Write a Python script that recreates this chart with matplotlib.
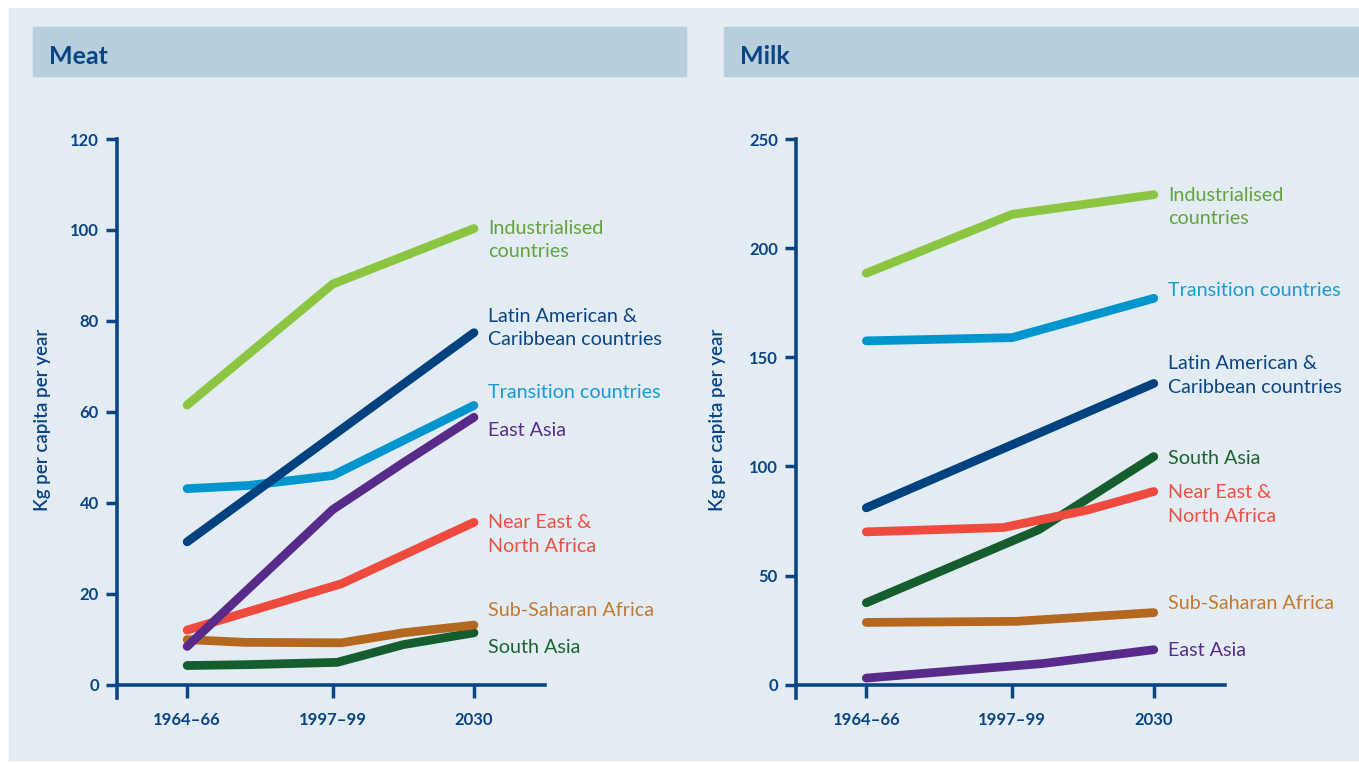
import matplotlib.pyplot as plt
from matplotlib.patches import Rectangle

plt.rcParams["font.family"] = ["Lato", "DejaVu Sans"]

# x axis: period midpoints, labelled as in the source
year_ticks = [1965, 1998, 2030]
year_labels = ["1964–66", "1997–99", "2030"]

# Meat, kg per capita per year
meat_ind_x = [1965, 1998, 2030]
meat_ind = [61.5, 88.1, 100.3]
meat_lat_x = [1965, 2030]
meat_lat = [31.4, 77.4]
meat_tra_x = [1965, 1979, 1998, 2030]
meat_tra = [43.1, 43.8, 46.0, 61.4]
meat_eas_x = [1965, 1998, 2014, 2030]
meat_eas = [8.4, 38.5, 48.8, 58.8]
meat_nea_x = [1965, 2000, 2030]
meat_nea = [12.0, 22.2, 35.7]
meat_ssa_x = [1965, 1978, 2000, 2014, 2030]
meat_ssa = [9.9, 9.3, 9.2, 11.4, 13.1]
meat_sas_x = [1965, 1979, 1999, 2014, 2030]
meat_sas = [4.2, 4.4, 4.9, 8.8, 11.4]

# Milk, kg per capita per year
milk_ind_x = [1965, 1998, 2030]
milk_ind = [188.5, 215.5, 224.5]
milk_tra_x = [1965, 1998, 2030]
milk_tra = [157.5, 159.0, 177.0]
milk_lat_x = [1965, 2030]
milk_lat = [81.0, 138.0]
milk_sas_x = [1965, 2004, 2030]
milk_sas = [37.5, 71.0, 104.5]
milk_nea_x = [1965, 1996, 2015, 2030]
milk_nea = [70.0, 72.0, 80.0, 88.5]
milk_ssa_x = [1965, 1999, 2030]
milk_ssa = [28.5, 29.0, 33.0]
milk_eas_x = [1965, 2005, 2030]
milk_eas = [3.0, 9.7, 16.0]

names = {
    "ind": "Industrialised\ncountries",
    "lat": "Latin American &\nCaribbean countries",
    "tra": "Transition countries",
    "eas": "East Asia",
    "nea": "Near East &\nNorth Africa",
    "ssa": "Sub-Saharan Africa",
    "sas": "South Asia",
}
line_colors = {
    "ind": "#8cc541", "lat": "#00417f", "tra": "#0095cd", "eas": "#582b8b",
    "nea": "#ef4a3e", "ssa": "#b4681f", "sas": "#155c2e",
}
text_colors = {
    "ind": "#62a33f", "lat": "#0b4584", "tra": "#1a9ad6", "eas": "#5b2d8e",
    "nea": "#ef5045", "ssa": "#c27a2e", "sas": "#1d6434",
}
draw_order = ["ind", "tra", "lat", "sas", "ssa", "nea", "eas"]

DARK = "#0b4584"
PANEL_BG = "#e3ecf2"
BAR_BG = "#b7cfdc"
W, H = 1359, 763


def fx(px):
    return px / W


def fy(py):
    return 1 - py / H


def draw_panel(ax, series, ymax, yticks, label_y):
    for key in draw_order:
        xs, ys = series[key]
        ax.plot(xs, ys, color=line_colors[key], lw=6.3,
                solid_capstyle="round", solid_joinstyle="round")
        ax.text(2033.2, label_y[key], names[key], color=text_colors[key],
                fontsize=14.2, ha="left", va="center", linespacing=1.45)
    ax.set_facecolor("none")
    ax.set_xlim(1949.1, 2046.1)
    ax.set_ylim(-ymax * 0.0245, ymax)
    ax.spines["top"].set_visible(False)
    ax.spines["right"].set_visible(False)
    ax.spines["bottom"].set_position(("data", 0))
    for side in ("left", "bottom"):
        ax.spines[side].set_color(DARK)
        ax.spines[side].set_linewidth(2.6)
    ax.set_xticks(year_ticks)
    ax.set_xticklabels(year_labels)
    ax.set_yticks(yticks)
    ax.tick_params(axis="x", direction="out", length=9.5, width=2.5, color=DARK,
                   labelcolor=DARK, labelsize=12, pad=10)
    ax.tick_params(axis="y", direction="out", length=8, width=2.5, color=DARK,
                   labelcolor=DARK, labelsize=12, pad=5)
    for lab in ax.get_xticklabels() + ax.get_yticklabels():
        lab.set_fontweight("bold")


fig = plt.figure(figsize=(W / 100, H / 100), dpi=100)
fig.patch.set_facecolor("white")
fig.patches.append(Rectangle((fx(9), fy(760)), fx(W - 9), (760 - 8) / H,
                             transform=fig.transFigure, color=PANEL_BG, zorder=-3))
for x0, x1, title in [(33, 686, "Meat"), (724, W, "Milk")]:
    fig.patches.append(Rectangle((fx(x0), fy(76)), fx(x1 - x0), 49 / H,
                                 transform=fig.transFigure, color=BAR_BG, zorder=-2))
    fig.text(fx(x0 + 16), fy(57), title, color=DARK, fontsize=18,
             fontweight="bold", ha="left", va="center")

ax_meat = fig.add_axes([fx(117), fy(698), fx(428), (698 - 139) / H])
ax_milk = fig.add_axes([fx(796), fy(698), fx(429), (698 - 139) / H])

meat_series = {
    "ind": (meat_ind_x, meat_ind), "lat": (meat_lat_x, meat_lat),
    "tra": (meat_tra_x, meat_tra), "eas": (meat_eas_x, meat_eas),
    "nea": (meat_nea_x, meat_nea), "ssa": (meat_ssa_x, meat_ssa),
    "sas": (meat_sas_x, meat_sas),
}
milk_series = {
    "ind": (milk_ind_x, milk_ind), "lat": (milk_lat_x, milk_lat),
    "tra": (milk_tra_x, milk_tra), "eas": (milk_eas_x, milk_eas),
    "nea": (milk_nea_x, milk_nea), "ssa": (milk_ssa_x, milk_ssa),
    "sas": (milk_sas_x, milk_sas),
}
meat_label_y = {"ind": 97.8, "lat": 78.5, "tra": 64.2, "eas": 56.0,
                "nea": 33.0, "ssa": 16.3, "sas": 8.1}
milk_label_y = {"ind": 218.8, "tra": 180.7, "lat": 141.7, "sas": 103.7,
                "nea": 82.6, "ssa": 37.2, "eas": 15.6}

draw_panel(ax_meat, meat_series, 120, [0, 20, 40, 60, 80, 100, 120], meat_label_y)
draw_panel(ax_milk, milk_series, 250, [0, 50, 100, 150, 200, 250], milk_label_y)

for px in (43, 718):
    fig.text(fx(px), fy(420), "Kg per capita per year", rotation=90, color=DARK,
             fontsize=13.5, fontweight="semibold", ha="center", va="center")

fig.savefig("out.png", dpi=100, facecolor="white")
